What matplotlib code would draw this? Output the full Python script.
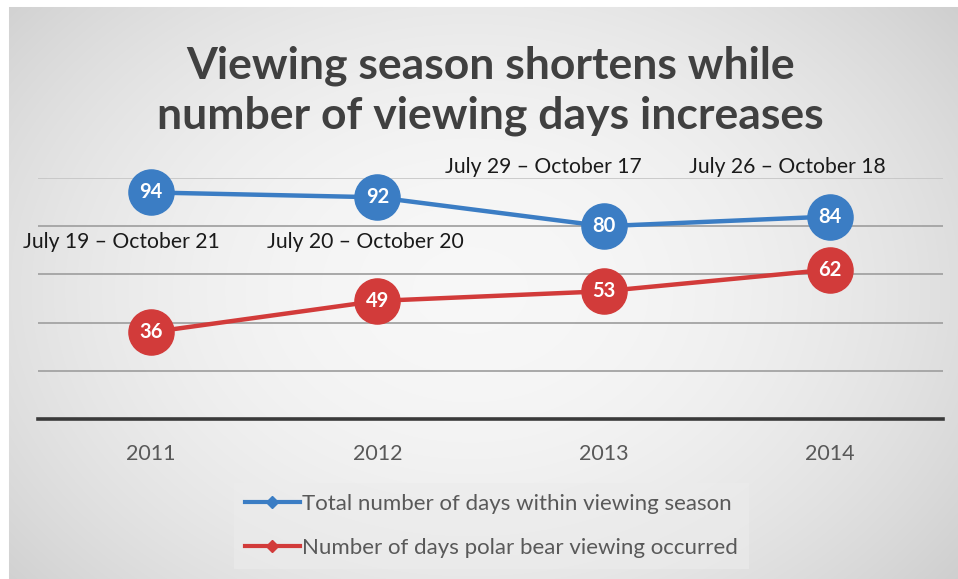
import numpy as np
import matplotlib
matplotlib.use("Agg")
import matplotlib.pyplot as plt
from matplotlib.lines import Line2D

plt.rcParams['font.family'] = ['Lato', 'DejaVu Sans']

years        = ['2011', '2012', '2013', '2014']
season_days  = [94, 92, 80, 84]
viewing_days = [36, 49, 53, 62]
season_dates = ['July 19 \u2013 October 21', 'July 20 \u2013 October 20',
                'July 29 \u2013 October 17', 'July 26 \u2013 October 18']

series_names = ['Total number of days within viewing season',
                'Number of days polar bear viewing occurred']

blue = '#3b7dc4'
red  = '#d23b3a'

W, H = 958, 579
fig = plt.figure(figsize=(W / 100, H / 100), dpi=100)

# soft grey backdrop, lighter in the middle
bg = fig.add_axes([0, 0, 1, 1], zorder=-10)
bg.axis('off')
yy, xx = np.mgrid[0:H, 0:W]
r = np.hypot((xx - 470) / 560.0, (yy - 290) / 420.0)
shade = np.clip(0.97 - 0.13 * r ** 2, 0, 1)
img = np.dstack([shade] * 3)
img[:7, :] = 1.0
img[:, :9] = 1.0
bg.imshow(img, aspect='auto', extent=[0, 1, 0, 1], origin='upper')
bg.set_xlim(0, 1)
bg.set_ylim(0, 1)

ax = fig.add_axes([38 / W, 1 - 419 / H, (943 - 38) / W, (419 - 178) / H])
ax.patch.set_alpha(0)
x = np.arange(len(years))
ax.set_xlim(-0.5, len(years) - 0.5)
ax.set_ylim(0, 100)

for g in [20, 40, 60, 80]:
    ax.axhline(g, color='#a3a3a3', lw=1.3, zorder=1)
ax.axhline(100, color='#c4c4c4', lw=1.2, zorder=1)

for s in ['top', 'right', 'left']:
    ax.spines[s].set_visible(False)
ax.spines['bottom'].set_color('#3a3a3a')
ax.spines['bottom'].set_linewidth(2.6)
ax.set_yticks([])
ax.set_xticks(x)
ax.set_xticklabels(years, fontsize=15.5, color='#595959')
ax.tick_params(axis='x', length=0, pad=18)

ax.plot(x, season_days, color=blue, lw=3.2, marker='o', ms=32.5, zorder=3, clip_on=False)
ax.plot(x, viewing_days, color=red, lw=3.2, marker='o', ms=32.5, zorder=3, clip_on=False)

for xi, v in zip(x, season_days):
    ax.text(xi, v, str(v), ha='center', va='center', color='white',
            fontsize=14.5, fontweight='bold', zorder=4)
for xi, v in zip(x, viewing_days):
    ax.text(xi, v, str(v), ha='center', va='center', color='white',
            fontsize=14.5, fontweight='bold', zorder=4)

# season date ranges, first two under the points, last two above
date_shift = [-0.13, -0.055, -0.265, -0.19]
date_y     = [73.5, 73.5, 104.5, 104.5]
for xi, lab, dx, dy in zip(x, season_dates, date_shift, date_y):
    ax.text(xi + dx, dy, lab, ha='center', va='center', fontsize=15.2,
            color='#1a1a1a', clip_on=False)

fig.text(0.512, 0.843, 'Viewing season shortens while\nnumber of viewing days increases',
         ha='center', va='center', fontsize=32, fontweight='bold',
         color='#404040', linespacing=1.3)

handles = [Line2D([], [], color=blue, lw=3, marker='D', ms=6),
           Line2D([], [], color=red, lw=3, marker='D', ms=6)]
leg = fig.legend(handles, series_names, loc='center', bbox_to_anchor=(0.513, 0.0915),
                 fontsize=16, frameon=True, fancybox=False, handlelength=2.5,
                 handletextpad=0.1, labelspacing=1.1, borderpad=0.5)
leg.get_frame().set_facecolor('#ececec')
leg.get_frame().set_edgecolor('none')
leg.get_frame().set_alpha(0.6)
for t in leg.get_texts():
    t.set_color('#595959')

fig.savefig('out.png', dpi=100)
